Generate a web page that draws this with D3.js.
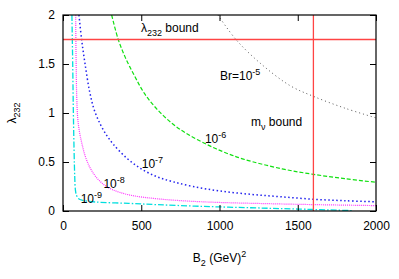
<!DOCTYPE html>
<html><head><meta charset="utf-8">
<script src="https://cdn.jsdelivr.net/npm/d3@7"></script>
<style>
body{margin:0;background:#fff;}
text{font-family:"Liberation Sans",Arial,sans-serif;fill:#000;}
</style></head>
<body>
<svg id="chart" width="399" height="279"></svg>
<script>
// Data (x = B2 in GeV^2, y = lambda_232)
const xTicks = [0, 500, 1000, 1500, 2000];
const xTickLabels = ["0", "500", "1000", "1500", "2000"];
const yTicks = [0, 0.5, 1, 1.5, 2];
const yTickLabels = ["0", "0.5", "1", "1.5", "2"];

const br5 = [[990,2],[1105,1.75],[1259,1.51],[1450,1.28],[1600,1.17],[1800,1.05],[2000,0.95]];
const br6 = [[311,2],[353,1.75],[400,1.56],[460,1.37],[520,1.2],[600,1.04],[700,0.89],[800,0.78],[918,0.68],[1030,0.6],[1152,0.53],[1400,0.43],[1600,0.374],[1800,0.33],[2000,0.293]];
const br7 = [[102,2],[119,1.75],[141,1.5],[170,1.22],[200,1.03],[240,0.88],[280,0.77],[322,0.68],[407,0.54],[500,0.43],[600,0.35],[700,0.3],[831,0.25],[1000,0.205],[1200,0.17],[1387,0.146],[1600,0.12],[1800,0.105],[2000,0.094]];
const br8 = [[81,2],[84,1.5],[88,1.15],[94,0.95],[104,0.82],[119,0.7],[140,0.57],[170,0.45],[210,0.35],[260,0.27],[313,0.22],[420,0.165],[600,0.125],[875,0.095],[1387,0.072],[2000,0.055]];
const br9 = [[57,2],[62,1.5],[66,1.03],[71,0.6],[75,0.35],[79,0.22],[86,0.16],[100,0.125],[121,0.11],[206,0.092],[420,0.078],[600,0.065],[875,0.048],[1200,0.033],[1500,0.02],[1850,0.004]];

const lambdaBound = 1.75;
const mnuBound = 1600;

const W = 399, H = 279;
const margin = {left:63, right:23, top:15, bottom:68};
const svg = d3.select("#chart");
const x = d3.scaleLinear().domain([0,2000]).range([margin.left, W-margin.right]);
const y = d3.scaleLinear().domain([0,2]).range([H-margin.bottom, margin.top]);

svg.append("defs").append("clipPath").attr("id","clip")
  .append("rect").attr("x",x(0)).attr("y",y(2)).attr("width",x(2000)-x(0)).attr("height",y(0)-y(2));

const line = d3.line().x(d=>x(d[0])).y(d=>y(d[1])).curve(d3.curveCatmullRom.alpha(0.5));
const g = svg.append("g").attr("clip-path","url(#clip)");

const series = [
  {data:br5, color:"#555", width:1, dash:"1,3"},
  {data:br6, color:"#11e011", width:1.2, dash:"4,2"},
  {data:br7, color:"#2222ee", width:1.5, dash:"1.5,2.5"},
  {data:br8, color:"#ff33ff", width:1.2, dash:"1,1"},
  {data:br9, color:"#00dede", width:1.3, dash:"6,2,1.5,2"}
];
series.forEach(s=>{
  g.append("path").datum(s.data).attr("d",line).attr("fill","none")
    .attr("stroke",s.color).attr("stroke-width",s.width).attr("stroke-dasharray",s.dash);
});

// red bound lines
svg.append("line").attr("x1",x(0)).attr("x2",x(2000)).attr("y1",y(lambdaBound)).attr("y2",y(lambdaBound))
  .attr("stroke","#ff4444").attr("stroke-width",1.3);
svg.append("line").attr("x1",x(mnuBound)).attr("x2",x(mnuBound)).attr("y1",y(0)).attr("y2",y(2))
  .attr("stroke","#ff4444").attr("stroke-width",1.3);

// axes with inward ticks (mirrored)
const tl = 6;
const axB = d3.axisBottom(x).tickValues(xTicks).tickFormat((d,i)=>xTickLabels[i]).tickSizeInner(-tl).tickSizeOuter(0).tickPadding(10);
const axL = d3.axisLeft(y).tickValues(yTicks).tickFormat((d,i)=>yTickLabels[i]).tickSizeInner(-tl).tickSizeOuter(0).tickPadding(8);
const axT = d3.axisTop(x).tickValues(xTicks).tickSizeInner(-tl).tickSizeOuter(0).tickFormat("");
const axR = d3.axisRight(y).tickValues(yTicks).tickSizeInner(-tl).tickSizeOuter(0).tickFormat("");
function style(sel){
  sel.select(".domain").remove();
  sel.selectAll("line").attr("stroke","#000").attr("stroke-width",1);
  sel.selectAll("text").attr("font-size",12).attr("font-family","Liberation Sans, Arial, sans-serif").attr("fill","#000");
}
svg.append("g").attr("transform",`translate(0,${y(0)})`).call(axB).call(style);
svg.append("g").attr("transform",`translate(${x(0)},0)`).call(axL).call(style);
svg.append("g").attr("transform",`translate(0,${y(2)})`).call(axT).call(style);
svg.append("g").attr("transform",`translate(${x(2000)},0)`).call(axR).call(style);

svg.append("rect").attr("x",x(0)).attr("y",y(2)).attr("width",x(2000)-x(0)).attr("height",y(0)-y(2))
  .attr("fill","none").attr("stroke","#000").attr("stroke-width",1.2);

// annotation helper: base text + sub/superscript
function label(px, py, parts, anchor){
  const t = svg.append("text").attr("x",px).attr("y",py).attr("font-size",12).attr("text-anchor",anchor||"start");
  let shift = 0;
  parts.forEach(p=>{
    const ts = t.append("tspan").text(p.t);
    let target = p.s==="sup" ? -5 : p.s==="sub" ? 4 : 0;
    if (target !== shift) { ts.attr("dy", target-shift); shift = target; }
    if (p.s) ts.attr("font-size",9);
  });
  return t;
}
label(x(498), y(1.827), [{t:"λ"},{t:"232",s:"sub"},{t:" bound"}]);
label(x(1003), y(1.337), [{t:"Br=10"},{t:"-5",s:"sup"}]);
label(x(1201), y(0.867), [{t:"m"},{t:"ν",s:"sub"},{t:" bound"}]);
label(x(907), y(0.694), [{t:"10"},{t:"-6",s:"sup"}]);
label(x(503), y(0.439), [{t:"10"},{t:"-7",s:"sup"}]);
label(x(258), y(0.238), [{t:"10"},{t:"-8",s:"sup"}]);
label(x(113), y(0.085), [{t:"10"},{t:"-9",s:"sup"}]);

// axis titles
label((x(0)+x(2000))/2, 262, [{t:"B"},{t:"2",s:"sub"},{t:" (GeV)"},{t:"2",s:"sup"}], "middle");
const yl = label(0, 0, [{t:"λ"},{t:"232",s:"sub"}], "middle");
yl.attr("transform",`translate(16,${(y(0)+y(2))/2}) rotate(-90)`);
</script>
</body></html>
